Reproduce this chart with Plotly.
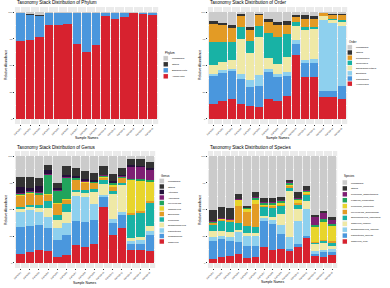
import plotly.graph_objects as go

W, H = 390, 288

samples = ["Sample1", "Sample2", "Sample3", "Sample4", "Sample5", "Sample6", "Sample7", "Sample8",
           "Sample9", "Sample10", "Sample11", "Sample12", "Sample13", "Sample14", "Sample15"]
y_ticks = [0, 25, 50, 75, 100]

# ---- Phylum (names bottom -> top of stack) ----
phylum_names = ["Ascomycota", "Basidiomycota", "Others", "Unclassified"]
phylum_colors = ["#D7222F", "#4A97DD", "#333333", "#CBCBCB"]
phylum_rows = [
    [73.0, 26.5, 0.2, 0.3], [74.0, 23.5, 0.2, 2.3], [76.5, 20.5, 0.2, 2.8],
    [87.5, 12.3, 0.1, 0.1], [88.0, 11.8, 0.1, 0.1], [89.0, 10.8, 0.1, 0.1],
    [70.0, 29.8, 0.1, 0.1], [62.7, 37.1, 0.1, 0.1], [69.6, 30.2, 0.1, 0.1],
    [96.0, 3.8, 0.1, 0.1], [93.4, 6.4, 0.1, 0.1], [95.0, 4.8, 0.1, 0.1],
    [99.5, 0.3, 0.1, 0.1], [97.8, 2.0, 0.1, 0.1], [98.0, 1.8, 0.1, 0.1],
]

# ---- Order ----
order_names = ["Hypocreales", "Capnodiales", "Eurotiales", "Saccharomycetales",
               "Tremellales", "Pleosporales", "Others", "Unclassified"]
order_colors = ["#D7222F", "#4A97DD", "#8ED0EE", "#EFE9A6", "#18B2A5", "#E39B25", "#333333", "#CBCBCB"]
order_rows = [
    [13.8, 26.5, 2.2, 7.8, 21.3, 16.8, 2.9, 8.7],
    [16.6, 26.8, 2.2, 7.8, 18.2, 15.9, 2.5, 10.0],
    [18.8, 25.6, 2.5, 8.1, 16.6, 13.7, 2.5, 12.2],
    [14.4, 22.8, 4.7, 32.5, 11.2, 11.0, 1.5, 1.9],
    [12.5, 17.5, 6.9, 24.4, 11.2, 10.5, 3.0, 14.0],
    [11.3, 19.3, 10.3, 36.0, 10.0, 10.0, 1.9, 1.2],
    [19.0, 25.0, 2.6, 10.6, 22.8, 10.6, 2.5, 6.9],
    [16.6, 22.8, 3.1, 8.5, 25.3, 11.2, 2.8, 9.7],
    [21.6, 18.4, 4.0, 14.0, 21.4, 8.4, 4.1, 8.1],
    [59.7, 10.6, 3.5, 13.4, 3.1, 4.7, 1.9, 3.1],
    [39.4, 12.5, 3.7, 27.5, 2.5, 8.2, 3.1, 3.1],
    [39.4, 13.1, 3.4, 27.9, 2.5, 7.1, 2.9, 3.7],
    [20.6, 5.4, 66.5, 3.8, 0.3, 2.9, 0.3, 0.2],
    [20.6, 5.4, 63.4, 3.7, 0.6, 4.1, 1.0, 1.2],
    [19.0, 11.6, 56.3, 4.1, 1.5, 5.3, 1.2, 1.0],
]

# ---- Genus ----
genus_names = ["Gibberella", "Cladosporium", "Papiliotrema", "Schwanniomyces", "Penicillium",
               "Epicoccum", "Talaromyces", "Meyerozyma", "Aspergillus", "Alternaria",
               "Others", "Unclassified"]
genus_colors = ["#D7222F", "#4A97DD", "#8ED0EE", "#EFE9A6", "#18B2A5", "#E39B25",
                "#E8D52C", "#21A45C", "#7E1F73", "#24103A", "#333333", "#CBCBCB"]
genus_rows = [
    [8.8, 24.5, 14.8, 2.2, 1.9, 11.0, 0.5, 1.1, 0.3, 6.3, 9.4, 19.2],
    [10.4, 24.2, 15.1, 2.5, 2.2, 11.0, 0.5, 1.1, 0.3, 2.7, 10.5, 19.5],
    [12.6, 22.9, 12.5, 3.3, 2.5, 10.0, 0.5, 1.7, 0.3, 5.4, 7.9, 20.4],
    [11.0, 21.4, 11.0, 7.9, 6.2, 6.3, 0.5, 18.4, 0.3, 4.4, 3.8, 8.8],
    [5.7, 15.7, 11.0, 7.9, 4.7, 11.0, 0.5, 11.1, 0.3, 2.1, 4.8, 25.2],
    [7.2, 18.9, 11.0, 10.1, 7.8, 4.7, 0.5, 20.0, 0.3, 2.2, 7.9, 9.4],
    [16.7, 22.9, 22.7, 3.7, 2.6, 9.4, 0.5, 1.1, 0.3, 1.2, 7.9, 11.0],
    [15.0, 23.7, 22.6, 4.1, 3.2, 6.9, 0.4, 0.5, 0.3, 1.9, 7.2, 14.2],
    [17.3, 23.0, 14.7, 11.0, 3.5, 5.3, 0.4, 0.9, 0.3, 1.6, 6.3, 15.7],
    [52.8, 9.5, 1.5, 10.4, 3.2, 2.2, 1.5, 0.9, 0.3, 0.4, 7.9, 9.4],
    [26.1, 11.0, 3.8, 24.5, 1.6, 4.7, 1.6, 1.5, 0.3, 1.3, 7.2, 16.4],
    [32.4, 12.6, 2.2, 26.1, 1.5, 4.8, 0.6, 0.9, 0.3, 0.6, 7.0, 11.0],
    [12.6, 5.6, 2.6, 2.2, 22.6, 0.9, 31.5, 0.6, 12.0, 0.6, 6.3, 2.5],
    [12.6, 5.6, 3.2, 2.5, 23.6, 1.2, 28.7, 1.2, 11.4, 0.6, 6.9, 2.5],
    [11.3, 14.8, 4.1, 4.4, 22.0, 0.9, 18.9, 1.6, 9.4, 1.0, 5.9, 5.7],
]

# ---- Species ----
species_names = ["Gibberella_zeae", "Papiliotrema_laurentii", "Schwanniomyces_vanrijiae",
                 "Gibberella_fujikuroi", "Sporobolomyces_ruberrimus", "Meyerozyma_guilliermondii",
                 "Penicillium_polonicum", "Fusarium_proliferatum", "Penicillium_adametzioides",
                 "Others", "Unclassified"]
species_colors = ["#D7222F", "#4A97DD", "#8ED0EE", "#EFE9A6", "#18B2A5", "#E39B25",
                  "#E8D52C", "#21A45C", "#7E1F73", "#333333", "#CBCBCB"]
species_rows = [
    [3.7, 17.2, 3.1, 5.6, 6.8, 1.3, 0.4, 0.8, 0.3, 10.3, 50.5],
    [5.9, 16.5, 3.1, 4.1, 10.0, 1.5, 0.4, 0.5, 0.3, 9.7, 48.0],
    [6.9, 14.0, 3.1, 4.7, 9.3, 2.2, 0.4, 0.5, 0.3, 10.0, 48.6],
    [8.4, 10.9, 9.4, 2.1, 6.6, 16.2, 5.6, 0.6, 0.3, 4.4, 35.5],
    [4.7, 11.5, 9.3, 2.2, 7.2, 12.5, 3.1, 0.9, 0.3, 1.9, 46.4],
    [5.9, 10.3, 9.3, 2.2, 5.6, 21.8, 4.7, 1.6, 0.3, 4.3, 34.0],
    [14.6, 24.3, 3.8, 1.5, 8.4, 1.0, 1.5, 1.6, 0.3, 3.4, 39.6],
    [12.1, 24.3, 3.8, 3.1, 8.7, 1.3, 1.8, 1.6, 0.3, 3.4, 39.6],
    [13.1, 14.0, 8.4, 10.3, 7.8, 0.9, 2.2, 1.6, 0.3, 3.4, 38.0],
    [10.9, 2.2, 10.9, 43.6, 3.1, 1.6, 1.5, 1.6, 0.3, 1.9, 22.4],
    [14.6, 3.2, 21.8, 10.9, 4.0, 1.3, 4.0, 0.9, 0.3, 5.0, 34.0],
    [23.1, 2.1, 25.3, 7.8, 5.6, 1.2, 1.6, 0.9, 0.3, 3.8, 28.3],
    [6.5, 1.9, 3.1, 6.3, 1.5, 0.6, 13.4, 2.2, 7.2, 2.5, 54.8],
    [5.9, 4.1, 2.1, 6.3, 2.5, 0.9, 16.2, 3.1, 5.3, 2.5, 51.1],
    [7.5, 2.5, 3.1, 3.1, 3.1, 0.9, 14.7, 1.5, 3.8, 2.5, 57.3],
]

FONT = "Liberation Sans, Arial, sans-serif"

def px(x):
    return x / W

def py(y):
    return 1 - y / H

panels = [
    # title, legend title, names, colors, rows, panel px box (x0,x1,ytop,ybot), legend geom
    dict(title="Taxonomy Stack Distribution of Phylum", lt="Phylum", names=phylum_names,
         colors=phylum_colors, rows=phylum_rows, box=(13, 157, 7, 124), tpos=(13, 3),
         leg=(162, 53, 58.3, 6.0), xt=(85, 138), yt=(4, 65)),
    dict(title="Taxonomy Stack Distribution of Order", lt="Order", names=order_names,
         colors=order_colors, rows=order_rows, box=(207, 347, 7, 124), tpos=(207, 3),
         leg=(347, 42, 47.3, 5.2), xt=(277, 138), yt=(199, 65)),
    dict(title="Taxonomy Stack Distribution of Genus", lt="Genus", names=genus_names,
         colors=genus_colors, rows=genus_rows, box=(13, 154, 151, 268), tpos=(13, 147.5),
         leg=(158, 176, 181, 5.5), xt=(83, 283), yt=(4, 210)),
    dict(title="Taxonomy Stack Distribution of Species", lt="Species", names=species_names,
         colors=species_colors, rows=species_rows, box=(207, 337, 151, 268), tpos=(207, 147.5),
         leg=(342, 176, 182.5, 5.9), xt=(272, 282), yt=(199, 210)),
]

fig = go.Figure()
shapes = []
annotations = []
layout_axes = {}

for i, p in enumerate(panels, start=1):
    sfx = "" if i == 1 else str(i)
    cols = list(zip(*p["rows"]))
    for k, name in enumerate(p["names"]):
        fig.add_trace(go.Bar(
            x=samples, y=list(cols[k]), name=name, marker_color=p["colors"][k],
            marker_line_width=0, width=0.9, showlegend=False,
            xaxis="x" + sfx, yaxis="y" + sfx,
        ))
    x0, x1, yt0, yb0 = p["box"]
    layout_axes["xaxis" + sfx] = dict(
        domain=[px(x0), px(x1)], anchor="y" + sfx, type="category",
        range=[-0.6, 14.6], tickmode="array", tickvals=samples, ticktext=samples,
        tickangle=-45, tickfont=dict(size=2.4, color="#4D4D4D", family=FONT),
        ticks="outside", ticklen=1.2, tickwidth=0.4, tickcolor="#333333",
        showgrid=True, gridcolor="white", gridwidth=0.6, showline=False, zeroline=False,
    )
    layout_axes["yaxis" + sfx] = dict(
        domain=[py(yb0), py(yt0)], anchor="x" + sfx, range=[-4.7, 104.7],
        tickmode="array", tickvals=y_ticks, ticktext=[str(v) for v in y_ticks],
        tickfont=dict(size=2.4, color="#4D4D4D", family=FONT),
        ticks="outside", ticklen=1.2, tickwidth=0.4, tickcolor="#333333",
        showgrid=True, gridcolor="white", gridwidth=0.6, zeroline=False, showline=False,
        minor=dict(tickvals=[12.5, 37.5, 62.5, 87.5], showgrid=True, gridcolor="white", gridwidth=0.3, ticks=""),
    )
    # title
    annotations.append(dict(text=p["title"], x=px(p["tpos"][0]), y=py(p["tpos"][1]),
                            xref="paper", yref="paper", xanchor="left", yanchor="middle",
                            showarrow=False, font=dict(size=4.6, color="black", family=FONT)))
    # axis titles
    annotations.append(dict(text="Sample Names", x=px(p["xt"][0]), y=py(p["xt"][1]),
                            xref="paper", yref="paper", xanchor="center", yanchor="middle",
                            showarrow=False, font=dict(size=3.4, color="black", family=FONT)))
    annotations.append(dict(text="Relative Abundance", x=px(p["yt"][0]), y=py(p["yt"][1]),
                            xref="paper", yref="paper", xanchor="center", yanchor="middle",
                            textangle=-90, showarrow=False,
                            font=dict(size=3.4, color="black", family=FONT)))
    # legend (top -> bottom = reversed stack order)
    lx, lty, ly0, dy = p["leg"]
    annotations.append(dict(text=p["lt"], x=px(lx), y=py(lty), xref="paper", yref="paper",
                            xanchor="left", yanchor="middle", showarrow=False,
                            font=dict(size=2.9, color="black", family=FONT)))
    leg_names = list(reversed(p["names"]))
    leg_colors = list(reversed(p["colors"]))
    ks = min(dy, 5.2)
    for j, (nm, c) in enumerate(zip(leg_names, leg_colors)):
        cy = ly0 + j * dy
        shapes.append(dict(type="rect", xref="paper", yref="paper",
                           x0=px(lx), x1=px(lx + ks), y0=py(cy + ks / 2), y1=py(cy - ks / 2),
                           fillcolor="#F2F2F2", line=dict(width=0), layer="above"))
        shapes.append(dict(type="rect", xref="paper", yref="paper",
                           x0=px(lx + 0.4), x1=px(lx + ks - 0.4), y0=py(cy + ks / 2 - 0.4),
                           y1=py(cy - ks / 2 + 0.4),
                           fillcolor=c, line=dict(width=0), layer="above"))
        annotations.append(dict(text=nm, x=px(lx + ks + 1.2), y=py(cy), xref="paper", yref="paper",
                                xanchor="left", yanchor="middle", showarrow=False,
                                font=dict(size=2.3, color="black", family=FONT)))

fig.update_layout(
    width=W, height=H, autosize=False,
    margin=dict(l=0, r=0, t=0, b=0, pad=0),
    paper_bgcolor="white", plot_bgcolor="#EBEBEB",
    barmode="stack", bargap=0.1,
    shapes=shapes, annotations=annotations,
    font=dict(family=FONT),
    **layout_axes,
)

fig.write_html("out.html")
